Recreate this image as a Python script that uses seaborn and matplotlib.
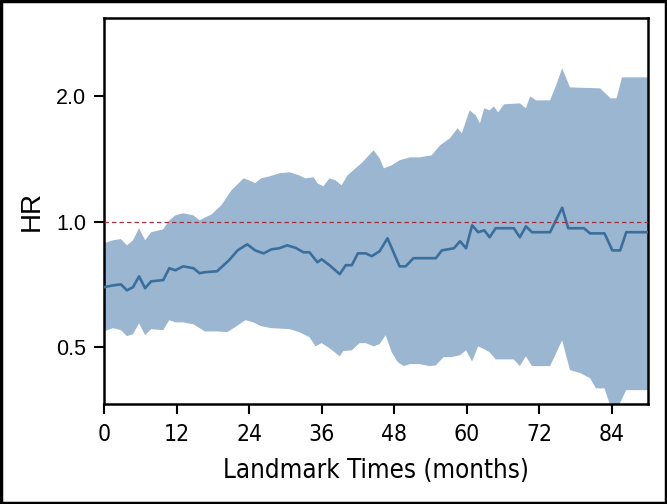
import numpy as np
import pandas as pd
import matplotlib
matplotlib.use("Agg")
import matplotlib.pyplot as plt
import seaborn as sns
from matplotlib.patches import Rectangle
from matplotlib.font_manager import FontProperties
from matplotlib.ticker import FixedLocator, FixedFormatter, NullLocator

# ---- data ----
hr_months = [0, 1.5, 2.8, 3.8, 4.8, 5.8, 6.8, 7.8, 9.8, 10.8, 11.8, 13.1, 14.8, 15.8, 16.7, 18.7,
             20.7, 22.1, 23.7, 25.0, 26.4, 27.7, 29.0, 30.3, 31.7, 33.0, 34.0, 35.3, 36.0, 37.3,
             39.0, 40.0, 41.0, 42.0, 43.3, 44.3, 45.6, 46.9, 48.9, 49.9, 51.2, 54.9, 55.9, 57.9,
             58.9, 59.9, 60.9, 61.9, 62.9, 63.8, 64.8, 67.8, 68.8, 69.8, 70.8, 73.8, 75.8, 76.8,
             79.4, 80.4, 82.8, 84.1, 85.4, 86.4, 90]
hr_values = [0.696, 0.703, 0.707, 0.684, 0.696, 0.739, 0.692, 0.719, 0.724, 0.773, 0.764, 0.781,
             0.773, 0.752, 0.756, 0.760, 0.808, 0.853, 0.882, 0.853, 0.839, 0.858, 0.863, 0.877,
             0.865, 0.844, 0.844, 0.799, 0.812, 0.786, 0.748, 0.786, 0.786, 0.839, 0.839, 0.826,
             0.849, 0.912, 0.781, 0.781, 0.817, 0.817, 0.853, 0.863, 0.897, 0.863, 0.980, 0.943,
             0.953, 0.917, 0.964, 0.964, 0.917, 0.974, 0.943, 0.943, 1.080, 0.964, 0.964, 0.937,
             0.937, 0.853, 0.853, 0.943, 0.943]

upper_months = [0, 1.5, 2.8, 3.8, 4.8, 5.8, 6.8, 7.8, 9.8, 10.8, 11.8, 13.1, 14.8, 15.8, 17.8,
                19.4, 21.1, 22.1, 23.1, 24.0, 25.0, 26.0, 27.4, 29.0, 30.7, 32.3, 33.3, 34.7,
                35.3, 36.3, 37.3, 38.3, 39.3, 40.3, 41.6, 42.6, 44.6, 45.6, 46.3, 47.6, 48.9,
                50.6, 52.2, 54.2, 55.6, 57.2, 58.5, 59.2, 60.5, 61.5, 62.2, 62.9, 63.8, 64.5,
                65.2, 66.2, 68.8, 69.8, 70.5, 71.5, 73.8, 74.8, 75.8, 77.1, 82.1, 83.8, 84.8,
                85.7, 90]
upper_values = [0.887, 0.902, 0.908, 0.877, 0.902, 0.964, 0.902, 0.943, 0.958, 1.007, 1.035,
                1.047, 1.035, 1.007, 1.041, 1.094, 1.189, 1.229, 1.270, 1.256, 1.236, 1.270,
                1.284, 1.306, 1.313, 1.291, 1.270, 1.277, 1.236, 1.215, 1.270, 1.256, 1.222,
                1.291, 1.342, 1.380, 1.483, 1.419, 1.342, 1.365, 1.403, 1.426, 1.426, 1.442,
                1.524, 1.584, 1.674, 1.629, 1.849, 1.799, 1.721, 1.870, 1.849, 1.890, 1.829,
                1.912, 1.922, 1.870, 1.997, 1.954, 1.954, 2.123, 2.332, 2.099, 2.088, 1.976,
                1.976, 2.219, 2.219]

lower_months = [0, 1.5, 2.8, 3.8, 4.8, 5.8, 6.8, 7.8, 9.8, 10.8, 11.8, 13.1, 14.8, 16.7, 18.7,
                20.4, 21.7, 23.4, 24.7, 26.0, 27.7, 30.7, 32.3, 34.0, 35.0, 36.0, 37.3, 39.0,
                39.6, 41.0, 42.3, 43.3, 44.6, 45.6, 46.6, 47.6, 48.6, 49.6, 50.6, 52.2, 53.9,
                54.9, 56.2, 57.5, 58.9, 59.9, 60.9, 61.9, 62.9, 63.8, 64.8, 67.8, 68.8, 69.8,
                70.8, 73.8, 75.8, 77.1, 78.8, 80.4, 81.4, 82.8, 84.1, 85.1, 86.4, 90]
lower_values = [0.545, 0.555, 0.549, 0.531, 0.537, 0.570, 0.534, 0.552, 0.549, 0.580, 0.573,
                0.573, 0.567, 0.545, 0.545, 0.543, 0.558, 0.580, 0.573, 0.561, 0.555, 0.552,
                0.543, 0.528, 0.502, 0.511, 0.497, 0.475, 0.489, 0.491, 0.511, 0.511, 0.502,
                0.508, 0.534, 0.486, 0.460, 0.450, 0.455, 0.455, 0.450, 0.452, 0.473, 0.473,
                0.478, 0.491, 0.462, 0.502, 0.494, 0.486, 0.467, 0.467, 0.450, 0.475, 0.450,
                0.450, 0.519, 0.440, 0.433, 0.421, 0.398, 0.398, 0.350, 0.360, 0.394, 0.394]

x_ticks = [0, 12, 24, 36, 48, 60, 72, 84]
y_ticks = [0.5, 1.0, 2.0]
y_tick_labels = ["0.5", "1.0", "2.0"]
reference_hr = 1.0

# ---- style ----
sns.set_theme(style="ticks")
plt.rcParams['font.family'] = ['DejaVu Sans']
plt.rcParams['font.stretch'] = 'condensed'
plt.rcParams['text.color'] = 'black'
plt.rcParams['axes.labelcolor'] = 'black'
plt.rcParams['xtick.color'] = 'black'
plt.rcParams['ytick.color'] = 'black'

band_color = "#9bb6d1"
line_color = "#3b6f9b"

fig = plt.figure(figsize=(6.67, 5.04), dpi=100)
ax = fig.add_axes([104 / 667, 1 - 404 / 504, (648 - 104) / 667, (404 - 18) / 504])

band_x = np.concatenate([upper_months, lower_months[::-1]])
band_y = np.concatenate([upper_values, lower_values[::-1]])
ax.fill(band_x, band_y, color=band_color, linewidth=0, zorder=1)

df = pd.DataFrame({"month": hr_months, "HR": hr_values})
sns.lineplot(data=df, x="month", y="HR", ax=ax, color=line_color, linewidth=1.9,
             zorder=3, estimator=None, sort=False)

ax.axhline(reference_hr, color="#a33040", linestyle=(0, (3.5, 2.5)), linewidth=0.9, zorder=4)

ax.set_yscale("log")
ax.set_xlim(0, 90)
ax.set_ylim(0.365, 3.08)
ax.yaxis.set_major_locator(FixedLocator(y_ticks))
ax.yaxis.set_major_formatter(FixedFormatter(y_tick_labels))
ax.yaxis.set_minor_locator(NullLocator())
ax.xaxis.set_major_locator(FixedLocator(x_ticks))
ax.xaxis.set_major_formatter(FixedFormatter([str(t) for t in x_ticks]))

for s in ax.spines.values():
    s.set_visible(True)
    s.set_linewidth(1.8)
    s.set_color("black")

ax.tick_params(axis="both", direction="out", length=7, width=1.5, color="black")
ax.tick_params(axis="x", pad=7, labelsize=16.5)
ax.tick_params(axis="y", pad=6)
yfp = FontProperties(family='Liberation Sans', stretch='normal', size=15.5)
for lbl in ax.get_yticklabels():
    lbl.set_fontproperties(yfp)

ax.set_xlabel("Landmark Times (months)", labelpad=8, fontsize=18.5,
              family='DejaVu Sans', stretch='condensed')
ax.set_ylabel("HR", labelpad=8,
              fontproperties=FontProperties(family='Liberation Sans', stretch='normal', size=20))

fig.patches.append(Rectangle((0.002, 0.002), 0.996, 0.996, transform=fig.transFigure,
                             fill=False, edgecolor="black", linewidth=2.5))

fig.savefig("out.png", dpi=100)
